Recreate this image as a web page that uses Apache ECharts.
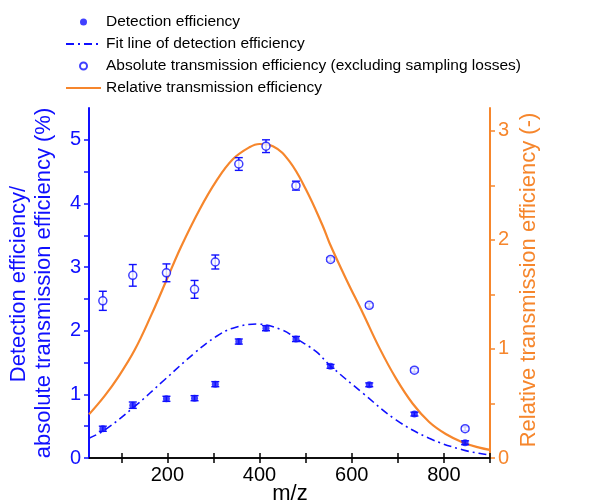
<!DOCTYPE html>
<html>
<head>
<meta charset="utf-8">
<script src="https://cdn.jsdelivr.net/npm/echarts@6/dist/echarts.min.js"></script>
<style>
html, body { margin: 0; padding: 0; background: #fff; }
#chart { width: 598px; height: 504px; }
</style>
</head>
<body>
<div id="chart"></div>
<script>
// measured points (m/z)
const mz = [60, 125, 198, 259, 304, 355, 414, 479, 554, 638, 736, 846];
const detEff = [0.46, 0.83, 0.93, 0.94, 1.16, 1.83, 2.04, 1.87, 1.44, 1.15, 0.69, 0.24];
const detErr = [0.04, 0.05, 0.04, 0.04, 0.04, 0.04, 0.04, 0.04, 0.03, 0.03, 0.03, 0.03];
const absEff = [2.47, 2.87, 2.91, 2.65, 3.08, 4.62, 4.90, 4.28, 3.12, 2.40, 1.38, 0.46];
const absErr = [0.15, 0.17, 0.14, 0.14, 0.11, 0.10, 0.10, 0.07, 0.03, 0.03, 0.03, 0.03];

// fit line of detection efficiency (left axis)
const fitX = [30, 64, 129, 194, 259, 306, 342, 393, 450, 479, 523, 552, 624, 696, 768, 840, 895, 900];
const fitY = [0.31, 0.44, 0.81, 1.23, 1.65, 1.91, 2.04, 2.105, 2.01, 1.88, 1.67, 1.46, 1.02, 0.60, 0.31, 0.13, 0.05, 0.045];

// relative transmission efficiency (right axis)
const relX = [30, 64, 93, 129, 165, 198, 230, 270, 306, 342, 378, 400, 429, 465, 501, 537, 552, 588, 624, 660, 696, 732, 768, 804, 840, 877, 900];
const relY = [0.40, 0.57, 0.74, 0.99, 1.31, 1.63, 1.94, 2.28, 2.54, 2.74, 2.85, 2.88, 2.86, 2.72, 2.46, 2.13, 1.97, 1.64, 1.33, 1.01, 0.73, 0.50, 0.33, 0.22, 0.145, 0.095, 0.075];

const xTicks = [100, 200, 300, 400, 500, 600, 700, 800, 900];
const xLabels = [200, 400, 600, 800];
const leftTicks = [0, 0.5, 1, 1.5, 2, 2.5, 3, 3.5, 4, 4.5, 5];
const leftLabels = [0, 1, 2, 3, 4, 5];
const rightTicks = [0, 0.5, 1, 1.5, 2, 2.5, 3];
const rightLabels = [0, 1, 2, 3];

const BLUE = '#1010ff';
const ORANGE = '#f6862c';
const FONT = '"Liberation Sans", Arial, sans-serif';

var myChart = echarts.init(document.getElementById('chart'));

function errorBars(values, errs) {
  return {
    type: 'custom',
    silent: true,
    z: 3,
    data: mz.map((x, i) => [x, values[i] - errs[i], values[i] + errs[i]]),
    encode: { x: 0, y: [1, 2] },
    renderItem: function (params, api) {
      const lo = api.coord([api.value(0), api.value(1)]);
      const hi = api.coord([api.value(0), api.value(2)]);
      const w = 4;
      const style = { stroke: BLUE, lineWidth: 1.4, fill: null };
      return {
        type: 'group',
        children: [
          { type: 'line', shape: { x1: hi[0], y1: hi[1], x2: lo[0], y2: lo[1] }, style: style },
          { type: 'line', shape: { x1: hi[0] - w, y1: hi[1], x2: hi[0] + w, y2: hi[1] }, style: style },
          { type: 'line', shape: { x1: lo[0] - w, y1: lo[1], x2: lo[0] + w, y2: lo[1] }, style: style }
        ]
      };
    }
  };
}

myChart.setOption({
  animation: false,
  grid: { left: 89, right: 108, top: 108, bottom: 46 },
  legend: {
    orient: 'vertical',
    left: 60,
    top: 9,
    itemWidth: 35,
    itemHeight: 7,
    itemGap: 6,
    selectedMode: false,
    textStyle: { fontSize: 15.5, color: '#000', fontFamily: FONT, lineHeight: 16 },
    data: [
      { name: 'Detection efficiency', icon: 'circle' },
      { name: 'Fit line of detection efficiency', itemStyle: { opacity: 0 } },
      { name: 'Absolute transmission efficiency (excluding sampling losses)', icon: 'circle' },
      { name: 'Relative transmission efficiency', itemStyle: { opacity: 0 } }
    ]
  },
  xAxis: [
    {
      type: 'value', position: 'bottom', min: 30, max: 900,
      axisLine: { lineStyle: { color: '#000', width: 1.5 } },
      axisTick: { customValues: xTicks, length: 5, lineStyle: { color: '#000', width: 1.5 } },
      axisLabel: { customValues: xLabels, fontSize: 20, color: '#000', fontFamily: FONT, margin: 7 },
      splitLine: { show: false }
    },
    {
      type: 'value', position: 'top', min: 30, max: 900,
      axisLine: { lineStyle: { color: '#000', width: 1.5 } },
      axisTick: { customValues: xTicks, length: 5, lineStyle: { color: '#000', width: 1.5 } },
      axisLabel: { show: false },
      splitLine: { show: false }
    }
  ],
  yAxis: [
    {
      type: 'value', position: 'left', min: 0, max: 5.5,
      axisLine: { show: true, lineStyle: { color: BLUE, width: 2 } },
      axisTick: { show: true, customValues: leftTicks, length: 5, lineStyle: { color: BLUE, width: 1.5 } },
      axisLabel: { customValues: leftLabels, fontSize: 20, color: BLUE, fontFamily: FONT, margin: 8 },
      splitLine: { show: false }
    },
    {
      type: 'value', position: 'right', min: 0, max: 3.21,
      axisLine: { show: true, lineStyle: { color: ORANGE, width: 2 } },
      axisTick: { show: true, customValues: rightTicks, length: 5, lineStyle: { color: ORANGE, width: 1.5 } },
      axisLabel: { customValues: rightLabels, fontSize: 20, color: ORANGE, fontFamily: FONT, margin: 8 },
      splitLine: { show: false }
    }
  ],
  graphic: [
    { type: 'text', x: 19, y: 284, rotation: Math.PI / 2,
      style: { text: 'Detection efficiency/', font: '22px ' + FONT, fill: BLUE, align: 'center', verticalAlign: 'middle' } },
    { type: 'text', x: 44, y: 283, rotation: Math.PI / 2,
      style: { text: 'absolute transmission efficiency (%)', font: '22px ' + FONT, fill: BLUE, align: 'center', verticalAlign: 'middle' } },
    { type: 'text', x: 529, y: 280, rotation: Math.PI / 2,
      style: { text: 'Relative transmission efficiency (-)', font: '22px ' + FONT, fill: ORANGE, align: 'center', verticalAlign: 'middle' } },
    { type: 'text', x: 290, y: 494,
      style: { text: 'm/z', font: '22px ' + FONT, fill: '#000', align: 'center', verticalAlign: 'middle' } }
  ],
  series: [
    {
      name: 'Relative transmission efficiency',
      type: 'line', yAxisIndex: 1, smooth: 0.4, symbol: 'none',
      lineStyle: { color: ORANGE, width: 2.2 },
      itemStyle: { color: ORANGE },
      z: 2,
      data: relX.map((x, i) => [x, relY[i]])
    },
    {
      name: 'Fit line of detection efficiency',
      type: 'line', smooth: 0.4, symbol: 'none',
      lineStyle: { color: BLUE, width: 1.6, type: [8, 4, 2, 4] },
      itemStyle: { color: BLUE },
      z: 2,
      data: fitX.map((x, i) => [x, fitY[i]])
    },
    errorBars(detEff, detErr),
    errorBars(absEff, absErr),
    {
      name: 'Detection efficiency',
      type: 'scatter', symbol: 'circle', symbolSize: 7, z: 4,
      itemStyle: { color: BLUE },
      data: mz.map((x, i) => [x, detEff[i]])
    },
    {
      name: 'Absolute transmission efficiency (excluding sampling losses)',
      type: 'scatter', symbol: 'circle', symbolSize: 8, z: 4,
      itemStyle: { color: '#fff', borderColor: BLUE, borderWidth: 1.5 },
      data: mz.map((x, i) => [x, absEff[i]])
    }
  ]
});
</script>
</body>
</html>
